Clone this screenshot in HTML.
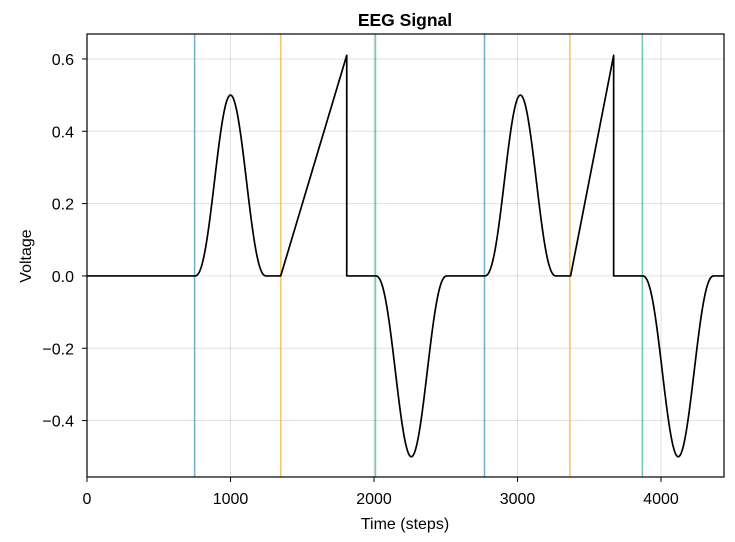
<!DOCTYPE html>
<html><head><meta charset="utf-8"><style>
html,body{margin:0;padding:0;background:#fff;width:735px;height:542px;overflow:hidden}
svg{display:block;font-family:"Liberation Sans",sans-serif}
</style></head><body>
<svg id="chart" width="735" height="542">
<text x="405" y="26" text-anchor="middle" font-weight="bold" font-size="17.5">EEG Signal</text>
<g id="grid"></g><g id="events"></g><g id="series"></g><g id="axes"></g>
<text x="405" y="529" text-anchor="middle" font-size="16">Time (steps)</text>
<text transform="translate(31,256) rotate(-90)" text-anchor="middle" font-size="16">Voltage</text>
</svg>
<script>
// data
const xTicks = [0, 1000, 2000, 3000, 4000];
const yTicks = [-0.4, -0.2, 0.0, 0.2, 0.4, 0.6];
const yTickLabels = ["−0.4", "−0.2", "0.0", "0.2", "0.4", "0.6"];
const eventTimes = [750, 1350, 2010, 2770, 3365, 3870];
const eventKinds = ["blue", "orange", "green", "blue", "orange", "green"];
// bump components: start, end, amplitude
const bumpStarts = [750, 2010, 2770, 3870];
const bumpEnds = [1250, 2510, 3270, 4370];
const bumpAmps = [0.5, -0.5, 0.5, -0.5];
// ramp components: start, end, peak
const rampStarts = [1350, 3370];
const rampEnds = [1810, 3670];
const rampPeaks = [0.61, 0.61];
const xMax = 4440;

const L = 87, R = 724, T = 34, B = 477;
const X0 = 0, X1 = 4439, Y0 = -0.556, Y1 = 0.669;
const sx = v => L + (v - X0) / (X1 - X0) * (R - L);
const sy = v => B - (v - Y0) / (Y1 - Y0) * (B - T);
const NS = "http://www.w3.org/2000/svg";
function mk(tag, attrs, parent) { const e = document.createElementNS(NS, tag); for (const k in attrs) e.setAttribute(k, attrs[k]); parent.appendChild(e); return e; }
const grid = document.getElementById('grid'), axes = document.getElementById('axes'), ev = document.getElementById('events'), ser = document.getElementById('series');

xTicks.forEach(t => {
  const g = mk('line', {x1: sx(t), x2: sx(t), y1: T, y2: B, stroke: '#000', 'stroke-opacity': 0.12, 'stroke-width': 1}, grid);
  
  
  const tk = mk('line', {x1: sx(t), x2: sx(t), y1: B, y2: B + 5, stroke: '#000'}, axes);
  
  
  const tx = mk('text', {x: sx(t), y: B + 27, 'text-anchor': 'middle', 'font-size': 16}, axes);
  tx.textContent = t;
  
  
});
yTicks.forEach((t, i) => {
  const g = mk('line', {x1: L, x2: R, y1: sy(t), y2: sy(t), stroke: '#000', 'stroke-opacity': 0.12, 'stroke-width': 1}, grid);
  
  
  const tk = mk('line', {x1: L - 5, x2: L, y1: sy(t), y2: sy(t), stroke: '#000'}, axes);
  
  
  const tx = mk('text', {x: L - 13, y: sy(t) + 6, 'text-anchor': 'end', 'font-size': 16}, axes);
  tx.textContent = yTickLabels[i];
  
  
});
const colors = {blue: 'rgba(0,114,178,0.55)', orange: 'rgba(240,170,20,0.65)', green: 'rgba(0,158,115,0.55)'};
eventTimes.forEach((t, i) => {
  const l = mk('line', {x1: sx(t), x2: sx(t), y1: T, y2: B, stroke: colors[eventKinds[i]], 'stroke-width': 1.6}, ev);
  
  
});
function val(t) {
  let v = 0;
  for (let i = 0; i < bumpStarts.length; i++) {
    if (t >= bumpStarts[i] && t <= bumpEnds[i]) {
      const u = (t - bumpStarts[i]) / (bumpEnds[i] - bumpStarts[i]);
      v += bumpAmps[i] * Math.pow(Math.sin(Math.PI * u), 2.4);
    }
  }
  for (let i = 0; i < rampStarts.length; i++) {
    if (t >= rampStarts[i] && t < rampEnds[i]) v += rampPeaks[i] * (t - rampStarts[i]) / (rampEnds[i] - rampStarts[i]);
  }
  return v;
}
let d = '';
for (let t = 0; t <= xMax; t += 2) {
  let pre = '';
  for (let i = 0; i < rampEnds.length; i++) {
    if (t === rampEnds[i]) pre = 'L' + sx(t).toFixed(2) + ',' + sy(rampPeaks[i]).toFixed(2);
  }
  d += pre + (d ? 'L' : 'M') + sx(t).toFixed(2) + ',' + sy(val(t)).toFixed(2);
}
const p = mk('path', {d: d, fill: 'none', stroke: '#000', 'stroke-width': 1.7, 'stroke-linejoin': 'round'}, ser);


const fr = mk('rect', {x: L, y: T, width: R - L, height: B - T, fill: 'none', stroke: '#000', 'stroke-width': 1.2}, axes);


</script>
</body></html>
